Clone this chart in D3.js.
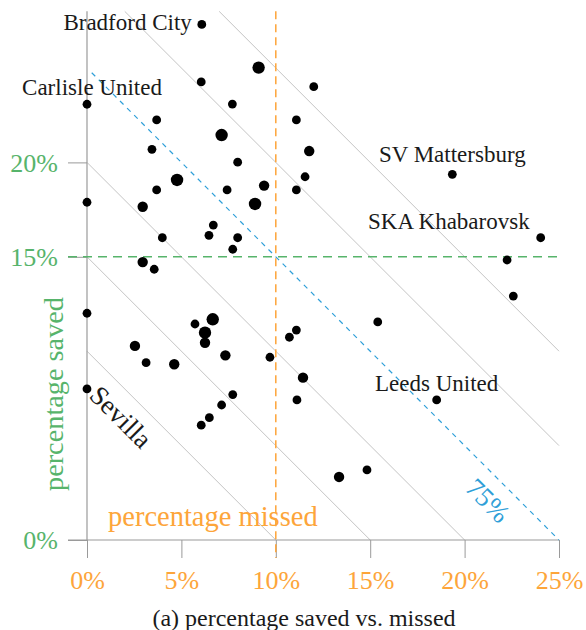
<!DOCTYPE html>
<html><head><meta charset="utf-8">
<script src="https://cdn.jsdelivr.net/npm/d3@7"></script>
<style>html,body{margin:0;padding:0;background:#fff}</style>
</head><body>
<script>
// ---- data ----
const missed = [6.08, 9.09, 6.05, 0, 7.70, 3.69, 11.09, 12.01, 7.13, 3.44, 11.77, 7.98, 4.77, 3.69, 7.42, 9.38, 11.09, 11.55, 0, 2.95, 8.90, 6.69, 6.46, 7.98, 3.99, 7.72, 2.95, 3.56, 19.35, 24.03, 22.25, 22.58, 0, 5.72, 6.66, 6.25, 6.25, 2.54, 7.33, 3.13, 4.62, 9.69, 10.72, 11.09, 0, 7.72, 7.13, 6.48, 6.05, 15.40, 11.44, 11.12, 18.52, 13.35, 14.83];
const saved = [27.31, 25.02, 24.26, 23.08, 23.09, 22.25, 22.25, 24.01, 21.45, 20.69, 20.60, 20.01, 19.07, 18.54, 18.54, 18.77, 18.54, 19.24, 17.89, 17.65, 17.80, 16.68, 16.14, 16.01, 16.01, 15.40, 14.72, 14.34, 19.37, 16.01, 14.83, 12.92, 12.01, 11.44, 11.69, 10.98, 10.45, 10.28, 9.78, 9.39, 9.31, 9.68, 10.74, 11.12, 8.00, 7.70, 7.15, 6.48, 6.08, 11.55, 8.60, 7.42, 7.42, 3.34, 3.71];
const weight = [1,3,1,1,1,1,1,1,3,1,2,1,3,1,1,2,1,1,1,2,3,1,1,1,1,1,2,1,1,1,1,1,1,1,3,3,2,2,2,1,2,1,1,1,1,1,1,1,1,1,2,1,1,2,1];
const teamNames = ["Bradford City", "Carlisle United", "SV Mattersburg", "SKA Khabarovsk", "Leeds United", "Sevilla"];
const teamIndex = [0, 3, 28, 29, 52, 44];
const xTicks = [0, 5, 10, 15, 20, 25];
const yTicks = [0, 15, 20];
const isoLines = [10, 15, 20, 30, 35];
const refMissed = 10, refSaved = 15, refTotal = 25;
const xLabel = "percentage missed", yLabel = "percentage saved", caption = "(a) percentage saved vs. missed", refLabel = "75%";

// ---- drawing ----
const W = 586, H = 630;
const GREEN = "#57b46b", ORANGE = "#fda53a", BLUE = "#2f9fd8", GRAY = "#9a9a9a", LGRAY = "#c4c4c4", INK = "#1a1a1a";
const FONT = "'Liberation Serif', 'Times New Roman', serif";
const x = d3.scaleLinear().domain([0, 25]).range([87, 559]);
const y = d3.scaleLinear().domain([0, 25]).range([540, 68]);
const yMax = 28, xMax = 25;
const r = d3.scaleOrdinal().domain([1, 2, 3]).range([4.4, 5.2, 6.2]);

const svg = d3.select("body").append("svg").attr("width", W).attr("height", H)
  .attr("font-family", FONT);

// iso lines (missed + saved = c)
isoLines.forEach(c => {
  const x0 = Math.max(0, c - yMax), x1 = Math.min(xMax, c);
  svg.append("line").attr("x1", x(x0)).attr("y1", y(c - x0)).attr("x2", x(x1)).attr("y2", y(c - x1))
    .attr("stroke", LGRAY).attr("stroke-width", 1);
});

// axes
const xAxis = d3.axisBottom(x).tickValues(xTicks).tickSize(18).tickFormat(d => d + "%");
const gx = svg.append("g").attr("transform", "translate(0,540)").call(xAxis).attr("font-family", FONT);
gx.select(".domain").remove();
gx.selectAll(".tick line").attr("stroke", GRAY).attr("stroke-width", 1);
gx.selectAll(".tick text").attr("fill", ORANGE).attr("font-size", 26).attr("y", 0).attr("dy", 49);
svg.append("line").attr("x1", 68).attr("x2", x(25)).attr("y1", y(0)).attr("y2", y(0)).attr("stroke", GRAY).attr("stroke-width", 1.2);

const yAxis = d3.axisLeft(y).tickValues(yTicks).tickSize(19).tickFormat(d => d + "%");
const gy = svg.append("g").attr("transform", "translate(87,0)").call(yAxis).attr("font-family", FONT);
gy.select(".domain").remove();
gy.selectAll(".tick line").attr("stroke", GRAY).attr("stroke-width", 1);
gy.selectAll(".tick text").attr("fill", GREEN).attr("font-size", 26).attr("x", -29).attr("dy", "0.34em");
svg.append("line").attr("x1", x(0)).attr("x2", x(0)).attr("y1", y(0)).attr("y2", y(yMax)).attr("stroke", GRAY).attr("stroke-width", 1.2);

// reference lines
svg.append("line").attr("x1", x(refMissed)).attr("x2", x(refMissed)).attr("y1", y(yMax)).attr("y2", 558)
  .attr("stroke", ORANGE).attr("stroke-width", 1.5).attr("stroke-dasharray", "8,5");
svg.append("line").attr("x1", 68).attr("x2", x(25)).attr("y1", y(refSaved)).attr("y2", y(refSaved))
  .attr("stroke", GREEN).attr("stroke-width", 1.5).attr("stroke-dasharray", "9,6");
svg.append("line").attr("x1", x(0.25)).attr("y1", y(refTotal - 0.25)).attr("x2", x(refTotal)).attr("y2", y(0))
  .attr("stroke", BLUE).attr("stroke-width", 1.2).attr("stroke-dasharray", "5,5");

// points
svg.append("g").selectAll("circle").data(missed.map((m, i) => i)).join("circle")
  .attr("cx", i => x(missed[i])).attr("cy", i => y(saved[i])).attr("r", i => r(weight[i])).attr("fill", "#000");

// team labels
const lab = teamNames.map((n, k) => ({ n, i: teamIndex[k] }));
const place = {
  "Bradford City": { dx: -10, dy: 6, a: "end" },
  "Carlisle United": { dx: 5, dy: -9, a: "middle" },
  "SV Mattersburg": { dx: 0, dy: -12, a: "middle" },
  "SKA Khabarovsk": { dx: -11, dy: -9, a: "end" },
  "Leeds United": { dx: 0, dy: -9, a: "middle" }
};
lab.filter(d => place[d.n]).forEach(d => {
  const p = place[d.n];
  svg.append("text").attr("x", x(missed[d.i]) + p.dx).attr("y", y(saved[d.i]) + p.dy)
    .attr("text-anchor", p.a).attr("font-size", 23).attr("fill", INK).text(d.n);
});
lab.filter(d => d.n === "Sevilla").forEach(d => {
  svg.append("text").attr("transform", `translate(${x(missed[d.i]) + 1},${y(saved[d.i]) + 8}) rotate(45)`)
    .attr("font-size", 27).attr("fill", INK).text(d.n);
});

// 75% label
svg.append("text").attr("transform", `translate(${x(21.25)},${y(2.1)}) rotate(45)`)
  .attr("text-anchor", "middle").attr("dy", "0.35em").attr("font-size", 27).attr("fill", BLUE).text(refLabel);

// axis titles
svg.append("text").attr("x", 108).attr("y", 526).attr("font-size", 28.5).attr("fill", ORANGE).text(xLabel);
svg.append("text").attr("transform", "translate(63,394) rotate(-90)").attr("text-anchor", "middle")
  .attr("font-size", 28.3).attr("fill", GREEN).text(yLabel);

// caption
svg.append("text").attr("x", 304).attr("y", 626).attr("text-anchor", "middle").attr("font-size", 24).attr("fill", INK).text(caption);
</script>
</body></html>
